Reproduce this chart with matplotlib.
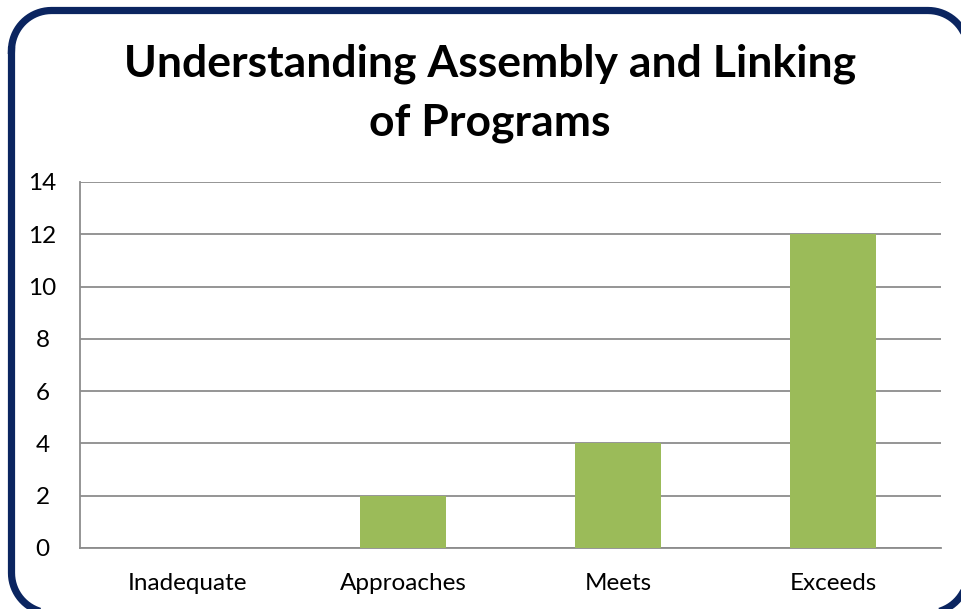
import matplotlib
matplotlib.use("Agg")
import numpy as np
import matplotlib.pyplot as plt

categories = ["Inadequate", "Approaches", "Meets", "Exceeds"]
counts = [0, 2, 4, 12]
y_ticks = [0, 2, 4, 6, 8, 10, 12, 14]

plt.rcParams['font.family'] = ['Lato', 'DejaVu Sans']

fig = plt.figure(figsize=(9.62, 6.09), dpi=100)
ax = fig.add_axes([80 / 962, 61 / 609, 861 / 962, 366 / 609])

x = range(len(categories))
ax.bar(x, counts, width=0.4, color="#9BBB59", zorder=3)
ax.set_xlim(-0.5, len(categories) - 0.5)
ax.set_ylim(0, 14)
ax.set_yticks(y_ticks)
ax.set_xticks(list(x))
ax.set_xticklabels(categories)
ax.tick_params(axis="both", length=0, labelsize=17.5, colors="black")
ax.tick_params(axis="y", pad=27)
ax.tick_params(axis="x", pad=18)
for lbl in ax.get_yticklabels():
    lbl.set_horizontalalignment("center")
ax.grid(axis="y", color="#8c8c8c", linewidth=1.3, zorder=0)
for side in ["top", "right"]:
    ax.spines[side].set_visible(False)
ax.spines["left"].set_color("#8c8c8c")
ax.spines["bottom"].set_color("#8c8c8c")
ax.spines["left"].set_linewidth(1.3)
ax.spines["bottom"].set_linewidth(1.3)

fig.text(0.509, 1 - 93 / 609, "Understanding Assembly and Linking\nof Programs",
         ha="center", va="center", fontsize=32, fontweight="bold",
         linespacing=1.55)

# rounded frame around the whole chart, drawn in pixel coordinates
overlay = fig.add_axes([0, 0, 1, 1], facecolor="none")
overlay.set_xlim(0, 962)
overlay.set_ylim(609, 0)
overlay.axis("off")
left, right, top, bottom, r = 11.5, 968, 10.5, 613, 40
t = np.linspace(0, np.pi / 2, 20)
fx = np.concatenate([left + r - r * np.cos(t),          # top-left
                     right - r + r * np.sin(t),         # top-right
                     right - r + r * np.cos(t),         # bottom-right
                     left + r - r * np.sin(t), [left]]) # bottom-left
fy = np.concatenate([top + r - r * np.sin(t),
                     top + r - r * np.cos(t),
                     bottom - r + r * np.sin(t),
                     bottom - r + r * np.cos(t), [top + r]])
overlay.plot(fx, fy, color="#0B2560", linewidth=5.2, clip_on=False,
             solid_joinstyle="round")

fig.savefig("out.png", dpi=100)
